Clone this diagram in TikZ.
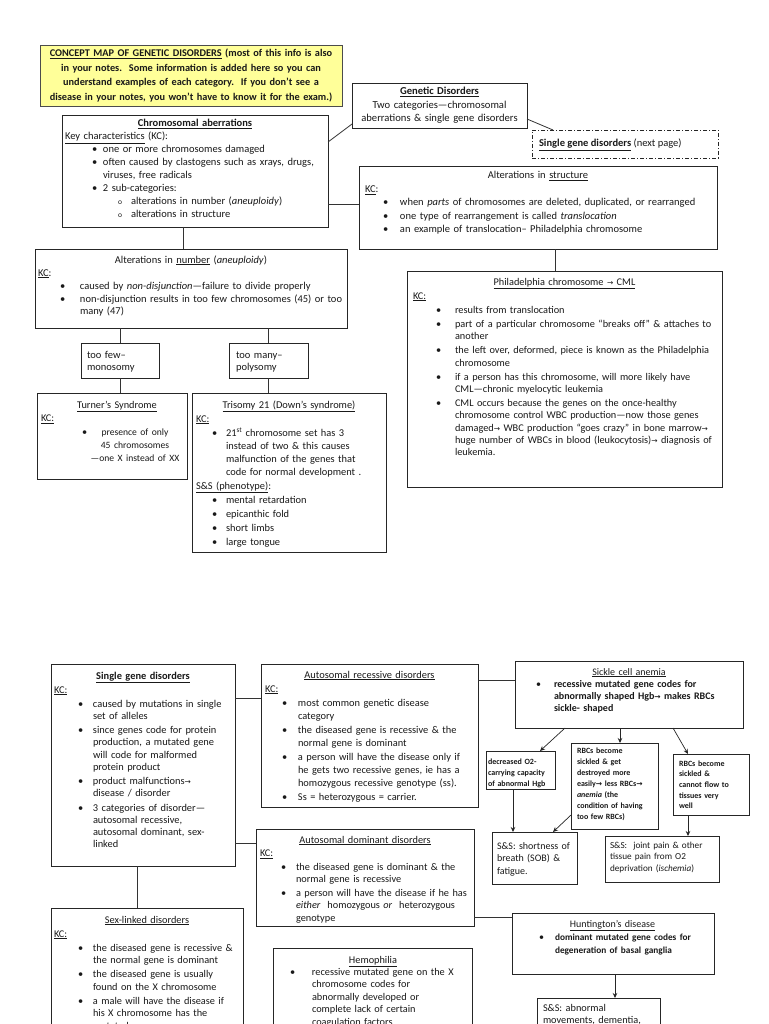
\documentclass[tikz,border=0pt]{standalone}
\usepackage{fontspec}
\setmainfont{Carlito}
\newfontfamily\dvfont{DejaVu Sans}
\usetikzlibrary{arrows.meta}
\newcommand\rar{{\dvfont\fontsize{7.5}{7.5}\selectfont\char"2192}}
\newlength\BI \newlength\TI
\newcommand\ind[2]{\setlength\BI{#1pt}\setlength\TI{#2pt}}
\newcommand\bul[1]{\noindent\hangindent=\TI\hangafter=1\hspace*{\BI}\makebox[\dimexpr\TI-\BI\relax][l]{\textbullet}#1\par}
\newcommand\subb[1]{\noindent\hangindent=\TI\hangafter=1\hspace*{\BI}\makebox[\dimexpr\TI-\BI\relax][l]{\fontsize{7.5}{7.5}\selectfont o}#1\par}
\newcommand\ttl[1]{\noindent\makebox[\hsize][c]{#1}\par}
\newcommand\pl[1]{\noindent#1\par}
\newcommand\fs[3]{\fontsize{#1}{#2}\selectfont\setlength\parskip{#3pt}}
\newcommand\bx[6][]{\node[box,#1,anchor=north west,minimum width={#5pt-#3pt},minimum height={#6pt-#4pt}] (#2) at (#3,#4) {};}
\definecolor{noteyellow}{RGB}{255,255,153}
\begin{document}
\begin{tikzpicture}[x=1pt,y=-1pt,
  box/.style={draw=black!85,line width=0.9pt,inner sep=0pt,outer sep=0pt},
  txt/.style={inner sep=0pt,outer sep=0pt,anchor=base west,align=left,text=black!90,font={\fs{10.5}{12.5}{1.5}}},
  ln/.style={draw=black!80,line width=0.8pt},
  arr/.style={draw=black!85,line width=0.7pt,-{Stealth[length=5pt,width=4.5pt]}}]
\path[use as bounding box] (0,0) rectangle (768,1024);
\clip (0,0) rectangle (768,1024);
\fill[white] (0,0) rectangle (768,1024);
% ---------------- top half boxes
\bx[fill=noteyellow,draw=black!70]{yel}{40}{45}{342}{106}
\bx{gen}{352}{83}{527}{128}
\bx[dash pattern=on 4pt off 2pt on 1pt off 2pt,line width=0.8pt]{sgd}{532}{130}{718}{158}
\bx{chrom}{62}{115}{328}{227}
\bx{struct}{359}{166}{717}{249}
\bx{altnum}{35}{249}{347}{328}
\bx{phil}{407}{271}{722}{487}
\bx{toofew}{81}{343}{159}{378}
\bx{toomany}{229}{343}{308}{378}
\bx{turner}{37}{393}{187}{479}
\bx{trisomy}{192}{393}{386}{552}
% ---------------- bottom half boxes
\bx{sgdtwo}{51}{664}{235}{866}
\bx{ar}{261}{664}{478}{807}
\bx{ad}{256}{829}{474}{926}
\bx{sexl}{51}{908}{243}{1040}
\bx{hemo}{273}{948}{472}{1040}
\bx{sickle}{515}{661}{743}{728}
\bx{dec}{486}{751}{555}{789}
\bx{cen}{571}{743}{658}{829}
\bx{rgt}{673}{754}{749}{815}
\bx{sob}{492}{832}{577}{884}
\bx{jnt}{605}{836}{719}{882}
\bx{hunt}{512}{913}{714}{974}
\bx{hss}{537}{998}{660}{1040}
% ---------------- texts, top half
\node[txt,anchor=base,align=center,text width=300pt,font={\bfseries\fs{10.3}{14.5}{0}}] (yelT) at (191,57)
 {\underline{CONCEPT MAP OF GENETIC DISORDERS} (most of this info is also\\ in your notes.\ \ Some information is added here so you can\\ understand examples of each category.\ \ If you don’t see a\\ disease in your notes, you won’t have to know it for the exam.)};
\node[txt,anchor=base,align=center,text width=175pt,font={\fs{10.6}{13.5}{0}}] (genT) at (439.5,95)
 {\textbf{\underline{Genetic Disorders}}\\ Two categories—chromosomal\\ aberrations \& single gene disorders};
\node[txt] (sgdT) at (539,147) {\textbf{\underline{Single gene disorders}} (next page)};
\node[txt,text width=260pt,font={\fs{10.5}{13}{0}}] (chromT) at (65,127) {%
\ttl{\textbf{\underline{Chromosomal aberrations}}}%
\pl{\underline{Key characteristics} (KC):}%
\ind{27}{38}%
\bul{one or more chromosomes damaged}%
\bul{often caused by clastogens such as xrays, drugs,\newline viruses, free radicals}%
\bul{2 sub-categories:}%
\ind{53}{66}%
\subb{alterations in number (\textit{aneuploidy})}%
\subb{alterations in structure}};
\node[txt,text width=346pt,font={\fs{10.5}{13.4}{0}}] (structT) at (365,179) {%
\ttl{Alterations in \underline{structure}}%
\pl{\underline{KC}:}%
\ind{18}{35}%
\bul{when \textit{parts} of chromosomes are deleted, duplicated, or rearranged}%
\bul{one type of rearrangement is called \textit{translocation}}%
\bul{an example of translocation-- Philadelphia chromosome}};
\node[txt,text width=306pt,font={\fs{10.5}{12.6}{0.5}}] (altnumT) at (38,263) {%
\ttl{Alterations in \underline{number} (\textit{aneuploidy})}%
\pl{\underline{KC}:}%
\ind{22}{42}%
\bul{caused by \textit{non-disjunction}—failure to divide properly}%
\bul{non-disjunction results in too few chromosomes (45) or too\newline many (47)}};
\node[txt,text width=303pt,font={\fs{10.3}{12.3}{1.8}}] (philT) at (413,285) {%
\ttl{\underline{Philadelphia chromosome \rar{} CML}}%
\pl{\underline{KC:}}%
\ind{23}{42}%
\bul{results from translocation}%
\bul{part of a particular chromosome “breaks off” \& attaches to\newline another}%
\bul{the left over, deformed, piece is known as the Philadelphia\newline chromosome}%
\bul{if a person has this chromosome, will more likely have\newline CML—chronic myelocytic leukemia}%
\bul{CML occurs because the genes on the once-healthy\newline chromosome control WBC production—now those genes\newline damaged\rar{} WBC production “goes crazy” in bone marrow\rar{}\newline huge number of WBCs in blood (leukocytosis)\rar{} diagnosis of\newline leukemia.}};
\node[txt,text width=70pt,font={\fs{10.5}{12.5}{0}}] (toofewT) at (87,358) {too few--\\monosomy};
\node[txt,text width=70pt,font={\fs{10.5}{12.5}{0}}] (toomanyT) at (236,358) {too many--\\polysomy};
\node[txt,text width=152pt,font={\fs{10.3}{13}{0.5}}] (turnerT) at (41,408) {%
\ttl{\underline{Turner’s Syndrome}}%
\pl{\underline{KC:}}%
\noindent\hspace*{41pt}\makebox[5pt][l]{\textbullet}\parbox[t]{96pt}{\fontsize{9.6}{13}\selectfont\centering presence of only\\45 chromosomes\\—one X instead of XX}\par};
\node[txt,text width=186pt,font={\fs{10.4}{13}{1}}] (trisomyT) at (196,408) {%
\ttl{\underline{Trisomy 21 (Down’s syndrome)}}%
\pl{\underline{KC:}}%
\ind{16}{30}%
\bul{21\textsuperscript{st} chromosome set has 3\newline instead of two \& this causes\newline malfunction of the genes that\newline code for normal development .}%
\pl{\underline{S\&S (phenotype)}:}%
\bul{mental retardation}%
\bul{epicanthic fold}%
\bul{short limbs}%
\bul{large tongue}};
% ---------------- texts, bottom half
\node[txt,text width=178pt,font={\fs{10.4}{12.3}{1.8}}] (sgdtwoT) at (54,679) {%
\ttl{\textbf{\underline{Single gene disorders}}}%
\pl{\underline{KC:}}%
\ind{24}{39}%
\bul{caused by mutations in single\newline set of alleles}%
\bul{since genes code for protein\newline production, a mutated gene\newline will code for malformed\newline protein product}%
\bul{product malfunctions\rar\newline disease / disorder}%
\bul{3 categories of disorder—\newline autosomal recessive,\newline autosomal dominant, sex-\newline linked}};
\node[txt,text width=209pt,font={\fs{10.4}{13}{1}}] (arT) at (265,678) {%
\ttl{\underline{Autosomal recessive disorders}}%
\pl{\underline{KC:}}%
\ind{17}{33}%
\bul{most common genetic disease\newline category}%
\bul{the diseased gene is recessive \& the\newline normal gene is dominant}%
\bul{a person will have the disease only if\newline he gets two recessive genes, ie has a\newline homozygous recessive genotype (ss).}%
\bul{Ss = heterozygous = carrier.}};
\node[txt,text width=210pt,font={\fs{10.3}{12.5}{1}}] (adT) at (260,843) {%
\ttl{\underline{Autosomal dominant disorders}}%
\pl{\underline{KC:}}%
\ind{21}{36}%
\bul{the diseased gene is dominant \& the\newline normal gene is recessive}%
\bul{a person will have the disease if he has\newline \textit{either}\ \ homozygous \textit{or}\ \ heterozygous\newline genotype}};
\node[txt,text width=186pt,font={\fs{10.3}{12.5}{1.5}}] (sexlT) at (54,923) {%
\ttl{\underline{Sex-linked disorders}}%
\pl{\underline{KC:}}%
\ind{24}{39}%
\bul{the diseased gene is recessive \&\newline the normal gene is dominant}%
\bul{the diseased gene is usually\newline found on the X chromosome}%
\bul{a male will have the disease if\newline his X chromosome has the\newline mutated gene}};
\node[txt,text width=194pt,font={\fs{10.3}{12.4}{0}}] (hemoT) at (276,963) {%
\ttl{\underline{Hemophilia}}%
\ind{14}{36}%
\bul{recessive mutated gene on the X\newline chromosome codes for\newline abnormally developed or\newline complete lack of certain\newline coagulation factors}};
\node[txt,text width=220pt,font={\fs{10}{12.3}{0}}] (sickleT) at (519,675) {%
\ttl{\underline{Sickle cell anemia}}%
\ind{17}{35}%
\bul{\textbf{recessive mutated gene codes for\newline abnormally shaped Hgb\rar{} makes RBCs\newline sickle- shaped}}};
\node[txt,text width=66pt,font={\bfseries\fs{8}{11}{0}}] (decT) at (488,764) {decreased O2-\\carrying capacity\\of abnormal Hgb};
\node[txt,text width=84pt,font={\bfseries\fs{8}{11}{0}}] (cenT) at (577,753) {RBCs become\\sickled \& get\\destroyed more\\easily\rar{} less RBCs\rar{}\\\textit{anemia} (the\\condition of having\\too few RBCs)};
\node[txt,text width=74pt,font={\bfseries\fs{8}{10.7}{0}}] (rgtT) at (679,766) {RBCs become\\sickled \&\\cannot flow to\\tissues very\\well};
\node[txt,text width=82pt,font={\fs{10}{12.5}{0}}] (sobT) at (497,849) {S\&S: shortness of\\breath (SOB) \&\\fatigue.};
\node[txt,text width=112pt,font={\fs{9.2}{11.8}{0}}] (jntT) at (610,848) {S\&S:\ \ joint pain \& other\\tissue pain from O2\\deprivation (\textit{ischemia})};
\node[txt,text width=193pt,font={\fs{10}{13}{0}}] (huntT) at (516,927) {%
\ttl{\underline{Huntington’s disease}}%
\ind{23}{39}%
\bul{\textbf{\fontsize{9.3}{13}\selectfont dominant mutated gene codes for\newline degeneration of basal ganglia}}};
\node[txt,text width=118pt,font={\fs{10.3}{12.5}{0}}] (hssT) at (543,1011) {S\&S: abnormal\\movements, dementia,};
% ---------------- connectors, top half
\draw[ln] (chrom.east |- 0,142) -- (gen.west |- 0,124);
\draw[ln] (gen.east |- 0,119) -- (553,0 |- sgd.north);
\draw[ln] (chrom.east |- 0,204) -- (struct.west |- 0,204);
\draw[ln] (183,0 |- chrom.south) -- (183,0 |- altnum.north);
\draw[ln] (555,0 |- struct.south) -- (555,0 |- phil.north);
\draw[ln] (toofew.north |- altnum.south) -- (toofew.north);
\draw[ln] (toofew.south) -- (toofew.south |- turner.north);
\draw[ln] (toomany.north |- altnum.south) -- (toomany.north);
\draw[ln] (toomany.south) -- (toomany.south |- trisomy.north);
% ---------------- connectors, bottom half
\draw[ln] (sgdtwo.east |- 0,698) -- (ar.west |- 0,698);
\draw[ln] (sgdtwo.east |- 0,843) -- (ad.west |- 0,843);
\draw[ln] (137,0 |- sgdtwo.south) -- (137,0 |- sexl.north);
\draw[ln] (ar.east |- 0,680) -- (sickle.west |- 0,680);
\draw[ln] (ad.east |- 0,917) -- (hunt.west |- 0,917);
\draw[arr] (565,0 |- sickle.south) -- (540,0 |- dec.north);
\draw[arr] (620,0 |- sickle.south) -- (620,0 |- cen.north);
\draw[arr] (673,0 |- sickle.south) -- (688,0 |- rgt.north);
\draw[arr] (513,0 |- dec.south) -- (513,0 |- sob.north);
\draw[arr] (cen.west |- 0,815) -- (553,0 |- sob.north);
\draw[arr] (688,0 |- rgt.south) -- (688,0 |- jnt.north);
\draw[arr] (615,0 |- hunt.south) -- (615,0 |- hss.north);
\end{tikzpicture}
\end{document}
